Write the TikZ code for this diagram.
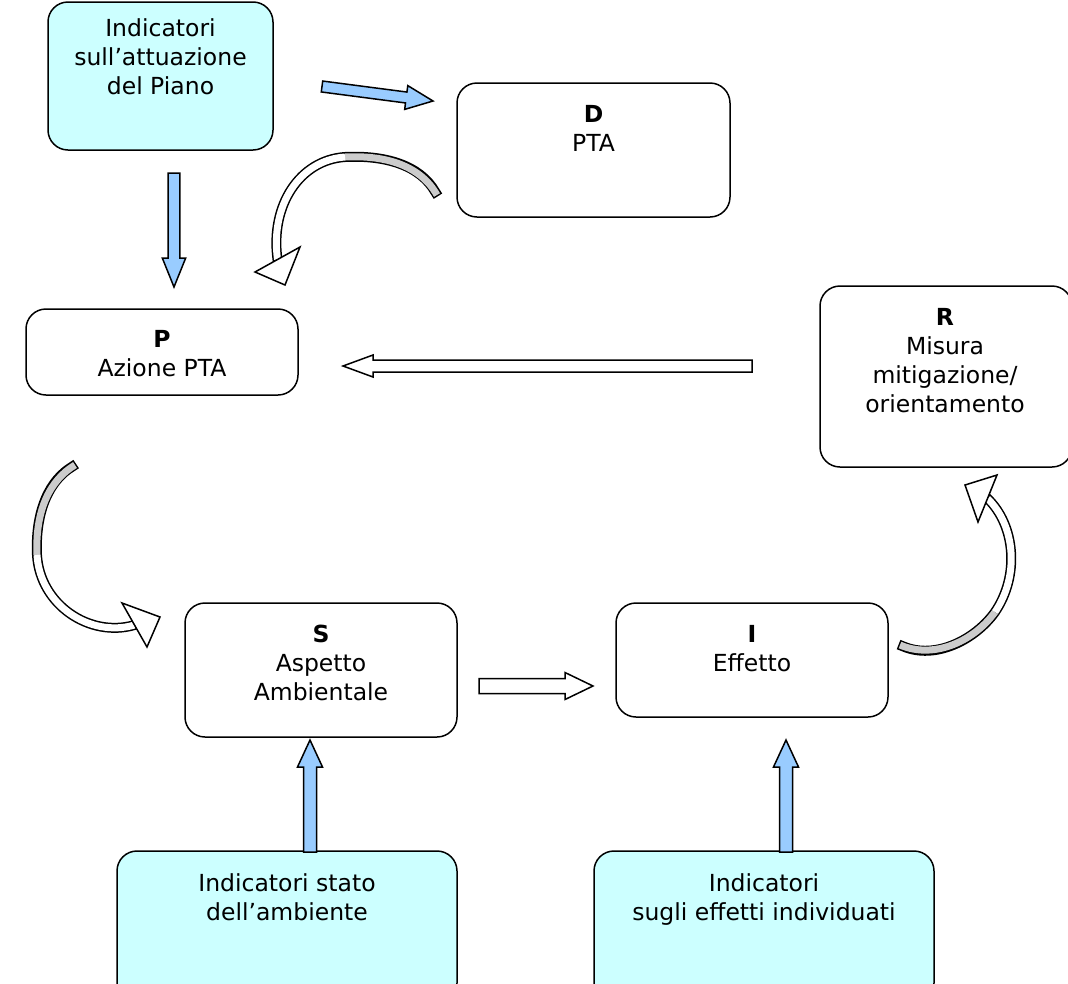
\documentclass[tikz,border=0pt]{standalone}
\usepackage{fontspec}
\setmainfont{DejaVu Sans}
\usetikzlibrary{calc}

\definecolor{indcyan}{HTML}{CCFFFF}
\definecolor{arrblue}{HTML}{99CCFF}
\definecolor{ribgray}{HTML}{CCCCCC}

% block arrow: #1 style, #2 tail, #3 tip, #4 half shaft, #5 half head, #6 head length
\newcommand\blockarrow[6]{%
  \coordinate (bahead) at ($(#3)!#6!(#2)$);
  \draw[#1] ($(#2)!#4!90:(#3)$) -- ($(bahead)!#4!-90:(#2)$)
    -- ($(bahead)!#5!-90:(#2)$) -- (#3) -- ($(bahead)!#5!90:(#2)$)
    -- ($(bahead)!#4!90:(#2)$) -- ($(#2)!#4!-90:(#3)$) -- cycle;}

\tikzset{
  box/.style={draw=black, line width=1.5pt, rounded corners=20pt,
    fill=white, inner sep=0pt, outer sep=0pt},
  indbox/.style={box, fill=indcyan},
  txt/.style={align=center, inner sep=0pt, anchor=north,
    font=\fontsize{23.5}{29}\selectfont},
  bluearrow/.style={draw=black, line width=1.5pt, fill=arrblue, line join=miter},
  whitearrow/.style={draw=black, line width=1.5pt, fill=white, line join=miter},
  ribout/.style={draw=black, line width=10pt, line cap=rect, shorten <=3.5pt},
  ribback/.style={draw=ribgray, line width=7pt},
  ribfront/.style={draw=white, line width=7pt},
  ribhead/.style={draw=black, line width=1.5pt, fill=white, line join=miter},
}

\begin{document}
\begin{tikzpicture}[x=1pt, y=-1pt]
\useasboundingbox (0,0) rectangle (1068,983);

% boxes
\node[indbox, minimum width=225pt, minimum height=148pt] (ind1) at (160.5,76) {};
\node[box, minimum width=273pt, minimum height=134pt] (D) at (593.5,150) {};
\node[box, minimum width=272pt, minimum height=86pt] (P) at (162,352) {};
\node[box, minimum width=252pt, minimum height=181pt] (R) at (946,376.5) {};
\node[box, minimum width=272pt, minimum height=134pt] (S) at (321,670) {};
\node[box, minimum width=272pt, minimum height=114pt] (I) at (752,660) {};
\node[indbox, minimum width=340pt, minimum height=152pt] (indS) at (287,927) {};
\node[indbox, minimum width=340pt, minimum height=152pt] (indI) at (764,927) {};

% labels
\node[txt] (ind1t) at ($(ind1.north)+(0,16)$) {Indicatori\\sull’attuazione\\del Piano};
\node[txt] (Dt) at ($(D.north)+(0,22)$) {\textbf{D}\\PTA};
\node[txt] (Pt) at ($(P.north)+(0,21)$) {\textbf{P}\\Azione PTA};
\node[txt] (Rt) at ($(R.north)+(-1,22)$) {\textbf{R}\\Misura\\mitigazione/\\orientamento};
\node[txt] (St) at ($(S.north)+(0,22)$) {\textbf{S}\\Aspetto\\Ambientale};
\node[txt] (It) at ($(I.north)+(0,22)$) {\textbf{I}\\Effetto};
\node[txt] (indSt) at ($(indS.north)+(0,22)$) {Indicatori stato\\dell’ambiente};
\node[txt] (indIt) at ($(indI.north)+(0,22)$) {Indicatori\\sugli effetti individuati};

% straight arrow end points
\coordinate (a1s) at (322,86.5);   \coordinate (a1e) at (433,101);
\coordinate (a2s) at ($(ind1.south)+(13.5,23)$); \coordinate (a2e) at ($(P.north)+(12,-22)$);
\coordinate (a3s) at ($(indS.north)+(23,1)$);  \coordinate (a3e) at ($(S.south)+(-11,3)$);
\coordinate (a4s) at ($(indI.north)+(22,1)$);  \coordinate (a4e) at ($(I.south)+(34,23)$);
\coordinate (w1s) at (752,366);    \coordinate (w1e) at ($(P.east)+(45,14)$);
\coordinate (w2s) at (479,686);    \coordinate (w2e) at (593,686);

\blockarrow{bluearrow}{a1s}{a1e}{5.5pt}{12pt}{27pt}
\blockarrow{bluearrow}{a2s}{a2e}{5.8pt}{11.7pt}{29pt}
\blockarrow{bluearrow}{a3s}{a3e}{6.5pt}{12.5pt}{27pt}
\blockarrow{bluearrow}{a4s}{a4e}{6.5pt}{12.5pt}{27pt}
\blockarrow{whitearrow}{w1s}{w1e}{6pt}{11pt}{30pt}
\blockarrow{whitearrow}{w2s}{w2e}{7.5pt}{13.5pt}{28pt}

% curved ribbon arrow from D to P
\coordinate (c1t) at (437,195); \coordinate (c1m) at (345,157); \coordinate (c1e) at (277.5,259.5);
\draw[ribout] (c1t) .. controls (420,165) and (385,155) .. (c1m)
  .. controls (300,160) and (270,205) .. (c1e);
\draw[ribback] (c1t) .. controls (420,165) and (385,155) .. (c1m);
\draw[ribfront] (c1m) .. controls (300,160) and (270,205) .. (c1e);
\draw[ribhead] (300,247) -- (285,285) -- (255,272) -- cycle;

% curved ribbon arrow from P to S
\coordinate (c2t) at (75,465); \coordinate (c2m) at (37,555); \coordinate (c2e) at (134.5,625);
\draw[ribout] (c2t) .. controls (50,480) and (35,510) .. (c2m)
  .. controls (40,605) and (90,638) .. (c2e);
\draw[ribback] (c2t) .. controls (50,480) and (35,510) .. (c2m);
\draw[ribfront] (c2m) .. controls (40,605) and (90,638) .. (c2e);
\draw[ribhead] (122,603) -- (160,617) -- (147,647) -- cycle;

% curved ribbon arrow from I to R
\coordinate (c3t) at (900,645); \coordinate (c3m) at (995,612); \coordinate (c3e) at (987.5,498.5);
\draw[ribout] (c3t) .. controls (935,660) and (975,640) .. (c3m)
  .. controls (1020,575) and (1015,525) .. (c3e);
\draw[ribback] (c3t) .. controls (935,660) and (975,640) .. (c3m);
\draw[ribfront] (c3m) .. controls (1020,575) and (1015,525) .. (c3e);
\draw[ribhead] (978,522) -- (965,485) -- (997,475) -- cycle;
\end{tikzpicture}
\end{document}
